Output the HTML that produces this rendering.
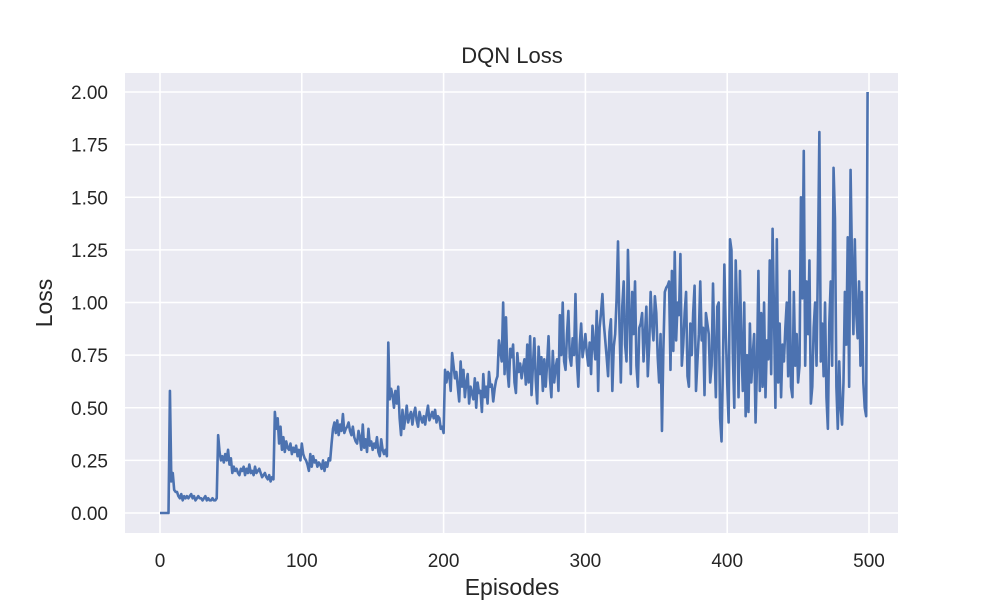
<!DOCTYPE html>
<html><head><meta charset="utf-8"><style>
body{margin:0;background:#fff;}
svg{display:block;font-family:"Liberation Sans","DejaVu Sans",sans-serif;}
</style></head><body>
<svg id="chart" width="1000" height="600">
<rect x="125" y="73" width="773" height="460" fill="#eaeaf2"/>
<g id="grid"></g>
<path id="series" fill="none" stroke="#4c72b0" stroke-width="2.6" stroke-linejoin="round"/>
<g id="ticks"></g>
<text x="512" y="63" text-anchor="middle" font-size="22" fill="#262626">DQN Loss</text>
<text x="512" y="595" text-anchor="middle" font-size="23" fill="#262626">Episodes</text>
<text transform="translate(52,303) rotate(-90)" text-anchor="middle" font-size="23" fill="#262626">Loss</text>
</svg>
<script>
const xTicks=[0,100,200,300,400,500];
const yTicks=[0,0.25,0.5,0.75,1.0,1.25,1.5,1.75,2.0];
const yTickLabels=["0.00","0.25","0.50","0.75","1.00","1.25","1.50","1.75","2.00"];
const loss=[0,0,0,0,0,0,0,
.58,.15,.19,.11,.10,.10,.08,.07,.09,.06,.08,.07,.08,.07,.08,.09,.07,.08,.06,.07,.08,.07,.07,.06,.07,.08,.06,.07,.06,.06,.07,.06,.06,.07,
.37,.29,.25,.27,.24,.28,.25,.30,.23,.26,.19,.22,.20,.21,.19,.18,.21,.20,.22,.18,.21,.19,.23,.19,.20,.18,.22,.19,.20,.21,.19,.17,.18,.19,.17,.16,.18,.15,.17,.16,
.48,.40,.45,.33,.41,.30,.36,.29,.34,.31,.30,.33,.28,.31,.29,.32,.27,.30,.25,.33,.28,.26,.25,.23,.20,.28,.22,.27,.24,.25,.22,.24,.23,.21,.25,.20,.24,.22,.26,.25,
.33,.40,.43,.38,.44,.37,.42,.39,.47,.38,.40,.41,.43,.39,.37,.41,.36,.34,.33,.39,.36,.30,.42,.31,.35,.29,.40,.32,.34,.30,.33,.31,.36,.29,.27,.35,.30,.28,.30,.27,
.81,.54,.59,.56,.50,.58,.52,.60,.45,.37,.49,.40,.45,.51,.43,.46,.48,.42,.47,.50,.44,.41,.48,.45,.43,.46,.42,.47,.51,.44,.46,.48,.45,.49,.43,.46,.45,.40,.41,.38,
.68,.62,.67,.66,.58,.76,.70,.64,.67,.60,.53,.72,.60,.68,.55,.62,.66,.52,.60,.57,.54,.64,.50,.62,.57,.58,.48,.66,.55,.60,.52,.67,.60,.61,.53,.59,.63,.65,.82,.77,
.72,1.00,.66,.93,.68,.60,.78,.74,.80,.62,.57,.76,.67,.71,.64,.69,.73,.61,.80,.62,.84,.56,.70,.83,.63,.52,.79,.66,.74,.58,.73,.60,.71,.84,.64,.55,.77,.62,.69,.73,
.58,.94,.75,1.00,.72,.68,.85,.96,.74,.70,.83,.75,1.04,.72,.60,.80,.90,.74,.79,.85,.76,.70,.81,.66,.89,.80,.73,.96,.58,.88,.95,1.04,.90,.82,.74,.65,.86,.92,.58,.79,
.85,1.02,1.29,.90,.62,.98,1.10,.80,.72,1.25,.95,.66,1.05,.85,1.10,.70,.60,.88,.90,.95,.72,.85,.98,.65,.80,1.05,.90,.82,1.03,.95,.74,.62,.85,.39,.78,1.05,1.07,1.08,1.10,.68,
1.15,.77,1.24,.82,1.00,.94,1.23,.70,.80,.95,1.05,.65,.60,.90,.75,.95,1.08,.58,.72,.85,1.10,.82,.88,.56,.95,.90,.85,.62,.70,1.09,.78,.55,.98,1.00,.45,.34,.70,1.18,.86,.62,
.43,1.30,1.25,.75,.50,1.20,.95,.55,1.15,.80,.58,1.00,.46,.75,.48,.90,.62,.75,.85,.43,.70,1.15,.58,.95,.60,1.00,.55,.82,.73,1.20,.66,1.35,.95,.50,1.30,.62,.90,.55,.80,.72,
.88,1.00,.65,1.15,.60,.55,1.05,.70,.85,.62,.70,1.50,1.02,1.72,.70,1.10,.85,1.20,.52,.60,.88,1.00,.70,1.20,1.81,.72,.90,.65,1.00,.55,.40,.90,1.10,.70,1.64,1.40,.60,.40,.72,.50,
.42,.62,1.05,.80,1.31,.60,1.63,1.20,.85,1.30,.95,.83,1.10,.70,1.05,.62,.50,.46,2.00];
const X=v=>160+v*(869-160)/500;
const Y=v=>513-v*(513-92)/2;
const NS="http://www.w3.org/2000/svg";
const grid=document.getElementById('grid'),ticks=document.getElementById('ticks');
xTicks.forEach(t=>{
  const l=document.createElementNS(NS,'line');
  l.setAttribute('x1',X(t));l.setAttribute('x2',X(t));l.setAttribute('y1',73);l.setAttribute('y2',533);
  l.setAttribute('stroke','#fff');l.setAttribute('stroke-width','1.6');
  
  
  grid.appendChild(l);
  const tx=document.createElementNS(NS,'text');
  tx.setAttribute('x',X(t));tx.setAttribute('y',567);tx.setAttribute('text-anchor','middle');
  tx.setAttribute('font-size','19');tx.setAttribute('fill','#262626');tx.textContent=t;
  
  
  ticks.appendChild(tx);
});
yTicks.forEach((t,i)=>{
  const l=document.createElementNS(NS,'line');
  l.setAttribute('x1',125);l.setAttribute('x2',898);l.setAttribute('y1',Y(t));l.setAttribute('y2',Y(t));
  l.setAttribute('stroke','#fff');l.setAttribute('stroke-width','1.6');
  
  
  grid.appendChild(l);
  const tx=document.createElementNS(NS,'text');
  tx.setAttribute('x',108);tx.setAttribute('y',Y(t)+7);tx.setAttribute('text-anchor','end');
  tx.setAttribute('font-size','19');tx.setAttribute('fill','#262626');tx.textContent=yTickLabels[i];
  
  
  ticks.appendChild(tx);
});
document.getElementById('series').setAttribute('d',loss.map((v,i)=>(i?'L':'M')+X(i).toFixed(2)+' '+Y(v).toFixed(2)).join(''));
</script>
</body></html>
